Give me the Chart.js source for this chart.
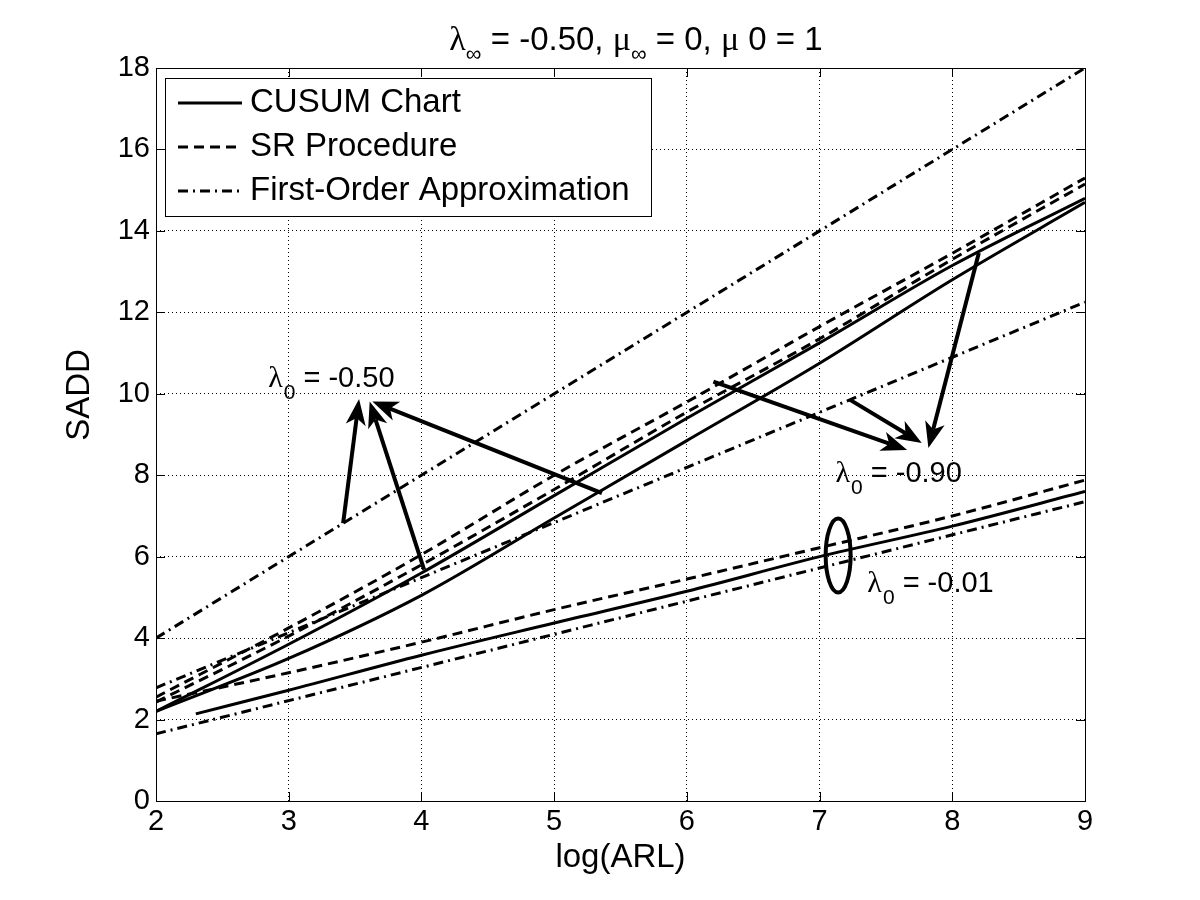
<!DOCTYPE html>
<html>
<head>
<meta charset="utf-8">
<script src="https://cdn.jsdelivr.net/npm/chart.js@4.4.0/dist/chart.umd.min.js"></script>
<style>
  html, body { margin: 0; padding: 0; background: #fff; }
</style>
</head>
<body>
<canvas id="myChart" width="1200" height="900"></canvas>
<script>
// log(ARL) values the curves were read at
const logARL = [2, 3, 4, 5, 6, 7, 8, 9];
const logARL001 = [2.3, 3, 4, 5, 6, 7, 8, 9]; // CUSUM for lambda0 = -0.01 starts a bit later

// lambda0 = -0.50
const cusum050 = [2.2, 3.5, 5.05, 6.95, 8.85, 10.75, 12.8, 14.7];
const sr050 = [2.43, 4.05, 5.8, 7.65, 9.55, 11.35, 13.3, 15.15];
// lambda0 = -0.90
const cusum090 = [2.2, 3.85, 5.6, 7.5, 9.4, 11.25, 13.15, 14.8];
const sr090 = [2.55, 4.25, 6.05, 8.0, 9.8, 11.65, 13.45, 15.3];
// lambda0 = -0.01
const cusum001 = [2.14, 2.72, 3.58, 4.37, 5.15, 6.0, 6.75, 7.6];
const sr001 = [2.45, 3.15, 3.9, 4.7, 5.45, 6.22, 7.0, 7.88];

// first-order approximations are straight lines (values at x = 2 and x = 9)
const approxX = [2, 9];
const approx050 = [4, 18];
const approx090 = [2.78, 12.25];
const approx001 = [1.65, 7.35];

const xRange = [2, 9];
const yRange = [0, 18];
const xStep = 1;
const yStep = 2;

// annotations, in data units: [fromX, fromY, toX, toY]
const arrows = [
  [3.41, 6.82, 3.53, 9.87],
  [4.02, 5.68, 3.61, 9.81],
  [5.36, 7.56, 3.63, 9.81],
  [6.20, 10.30, 7.66, 8.62],
  [7.23, 9.85, 7.77, 8.79],
  [8.20, 13.46, 7.82, 8.67]
];
const groupNames = ['-0.50', '-0.90', '-0.01'];
const groupLabelX = [2.845, 7.12, 7.36];
const groupLabelY = [10.17, 7.84, 5.14];
const ellipseCenter = [7.14, 6.03];

const SANS = '"Liberation Sans", Arial, Helvetica, sans-serif';
const SERIF = '"Liberation Serif", "DejaVu Serif", serif';

const DASHED = [10, 6];
const DASHDOT = [10, 5, 2, 5];

const zip = (xs, ys) => xs.map((x, i) => ({ x: x, y: ys[i] }));

const mkSet = (label, xs, ys, dash) => ({
  label: label,
  data: zip(xs, ys),
  borderColor: '#000',
  backgroundColor: '#000',
  borderWidth: 3,
  borderDash: dash,
  pointRadius: 0,
  cubicInterpolationMode: 'monotone',
  fill: false
});

const datasets = [
  mkSet('CUSUM Chart', logARL, cusum050, []),
  mkSet('SR Procedure', logARL, sr050, DASHED),
  mkSet('First-Order Approximation', approxX, approx050, DASHDOT),
  mkSet('CUSUM Chart', logARL, cusum090, []),
  mkSet('SR Procedure', logARL, sr090, DASHED),
  mkSet('First-Order Approximation', approxX, approx090, DASHDOT),
  mkSet('CUSUM Chart', logARL001, cusum001, []),
  mkSet('SR Procedure', logARL, sr001, DASHED),
  mkSet('First-Order Approximation', approxX, approx001, DASHDOT)
];

// draws "λ" + subscript + rest
function drawLambdaLabel(ctx, x, y, sub, rest) {
  ctx.font = '30px ' + SERIF;
  ctx.fillText('λ', x, y);
  x += ctx.measureText('λ').width + 1;
  ctx.font = '21px ' + SANS;
  ctx.fillText(sub, x, y + 12);
  x += ctx.measureText(sub).width;
  ctx.font = '29px ' + SANS;
  ctx.fillText(rest, x, y);
}

function drawArrow(ctx, x1, y1, x2, y2) {
  const a = Math.atan2(y2 - y1, x2 - x1);
  const len = 26, half = 10, notch = 19;
  const c = Math.cos(a), s = Math.sin(a);
  const bx = x2 - len * c, by = y2 - len * s;
  ctx.lineWidth = 4;
  ctx.beginPath();
  ctx.moveTo(x1, y1);
  ctx.lineTo(x2 - notch * c, y2 - notch * s);
  ctx.stroke();
  ctx.beginPath();
  ctx.moveTo(x2, y2);
  ctx.lineTo(bx - half * s, by + half * c);
  ctx.lineTo(x2 - notch * c, y2 - notch * s);
  ctx.lineTo(bx + half * s, by - half * c);
  ctx.closePath();
  ctx.fill();
}

const matlabLook = {
  id: 'matlabLook',
  beforeDraw(chart) {
    const ctx = chart.ctx;
    ctx.save();
    ctx.fillStyle = '#fff';
    ctx.fillRect(0, 0, chart.width, chart.height);
    ctx.restore();
  },
  afterDraw(chart) {
    const ctx = chart.ctx;
    const area = chart.chartArea;
    const xs = chart.scales.x, ys = chart.scales.y;
    ctx.save();
    ctx.strokeStyle = '#000';
    ctx.fillStyle = '#000';
    ctx.setLineDash([]);

    // axes box + inward ticks on all sides
    ctx.lineWidth = 1;
    ctx.strokeRect(area.left + 0.5, area.top + 0.5, area.right - area.left, area.bottom - area.top);
    const tl = 9;
    ctx.beginPath();
    xs.ticks.forEach(t => {
      const p = Math.round(xs.getPixelForValue(t.value)) + 0.5;
      ctx.moveTo(p, area.bottom); ctx.lineTo(p, area.bottom - tl);
      ctx.moveTo(p, area.top); ctx.lineTo(p, area.top + tl);
    });
    ys.ticks.forEach(t => {
      const p = Math.round(ys.getPixelForValue(t.value)) + 0.5;
      ctx.moveTo(area.left, p); ctx.lineTo(area.left + tl, p);
      ctx.moveTo(area.right, p); ctx.lineTo(area.right - tl, p);
    });
    ctx.stroke();

    // y axis title (MATLAB puts it a little above centre)
    ctx.save();
    ctx.translate(80, 395);
    ctx.rotate(-Math.PI / 2);
    ctx.textAlign = 'center';
    ctx.textBaseline = 'middle';
    ctx.font = '33px ' + SANS;
    ctx.fillText('SADD', 0, 0);
    ctx.restore();

    // arrows
    arrows.forEach(a => {
      drawArrow(ctx, xs.getPixelForValue(a[0]), ys.getPixelForValue(a[1]),
        xs.getPixelForValue(a[2]), ys.getPixelForValue(a[3]));
    });

    // ellipse around the lambda0 = -0.01 curves
    ctx.lineWidth = 4;
    ctx.beginPath();
    ctx.ellipse(xs.getPixelForValue(ellipseCenter[0]), ys.getPixelForValue(ellipseCenter[1]), 12.5, 37, 0, 0, Math.PI * 2);
    ctx.stroke();

    // group labels
    ctx.textBaseline = 'alphabetic';
    ctx.textAlign = 'left';
    groupNames.forEach((g, i) => {
      drawLambdaLabel(ctx, xs.getPixelForValue(groupLabelX[i]), ys.getPixelForValue(groupLabelY[i]), '0', ' = ' + g);
    });

    // title with subscripts
    const parts = [
      { t: 'λ', f: '34px ' + SERIF, dy: 0 },
      { t: '∞', f: '22px ' + SANS, dy: 11 },
      { t: ' = -0.50, ', f: '33px ' + SANS, dy: 0 },
      { t: 'μ', f: '34px ' + SERIF, dy: 0 },
      { t: '∞', f: '22px ' + SANS, dy: 11 },
      { t: ' = 0, ', f: '33px ' + SANS, dy: 0 },
      { t: 'μ', f: '34px ' + SERIF, dy: 0 },
      { t: ' 0 = 1', f: '33px ' + SANS, dy: 0 }
    ];
    let total = 0;
    parts.forEach(p => { ctx.font = p.f; p.w = ctx.measureText(p.t).width; total += p.w; });
    let tx = 636 - total / 2;
    const ty = 50;
    parts.forEach(p => { ctx.font = p.f; ctx.fillText(p.t, tx, ty + p.dy); tx += p.w; });

    // legend box
    const lx = area.left + 9, ly = area.top + 10, lw = 486, lh = 138;
    ctx.fillStyle = '#fff';
    ctx.fillRect(lx, ly, lw, lh);
    ctx.lineWidth = 1;
    ctx.strokeRect(lx + 0.5, ly + 0.5, lw, lh);
    ctx.fillStyle = '#000';
    ctx.font = '33px ' + SANS;
    ctx.textBaseline = 'middle';
    const seen = [];
    chart.data.datasets.forEach(ds => {
      if (seen.indexOf(ds.label) >= 0) return;
      seen.push(ds.label);
      const rowY = ly + 25 + (seen.length - 1) * 44;
      ctx.lineWidth = 3;
      ctx.setLineDash(ds.borderDash);
      ctx.beginPath();
      ctx.moveTo(lx + 13, rowY);
      ctx.lineTo(lx + 77, rowY);
      ctx.stroke();
      ctx.setLineDash([]);
      ctx.fillText(ds.label, lx + 85, rowY);
    });
    ctx.restore();
  }
};

const tickFont = { family: SANS, size: 29 };

new Chart(document.getElementById('myChart'), {
  type: 'line',
  data: { datasets: datasets },
  options: {
    responsive: false,
    animation: false,
    events: [],
    layout: { padding: { left: 0, right: 115, top: 68, bottom: 0 } },
    plugins: {
      legend: { display: false },
      title: { display: false },
      tooltip: { enabled: false }
    },
    scales: {
      x: {
        type: 'linear',
        min: xRange[0],
        max: xRange[1],
        ticks: { stepSize: xStep, color: '#000', font: tickFont, padding: 4, maxRotation: 0 },
        grid: { color: '#000', lineWidth: 1, drawTicks: false },
        border: { display: false, dash: [1, 3] },
        title: { display: true, text: 'log(ARL)', color: '#000', font: { family: SANS, size: 33 }, padding: { top: 0, bottom: 22 } },
        afterFit: s => { s.height = 99; }
      },
      y: {
        type: 'linear',
        min: yRange[0],
        max: yRange[1],
        ticks: { stepSize: yStep, color: '#000', font: tickFont, padding: 6 },
        grid: { color: '#000', lineWidth: 1, drawTicks: false },
        border: { display: false, dash: [1, 3] },
        title: { display: false },
        afterFit: s => { s.width = 156; }
      }
    }
  },
  plugins: [matlabLook]
});
</script>
</body>
</html>
